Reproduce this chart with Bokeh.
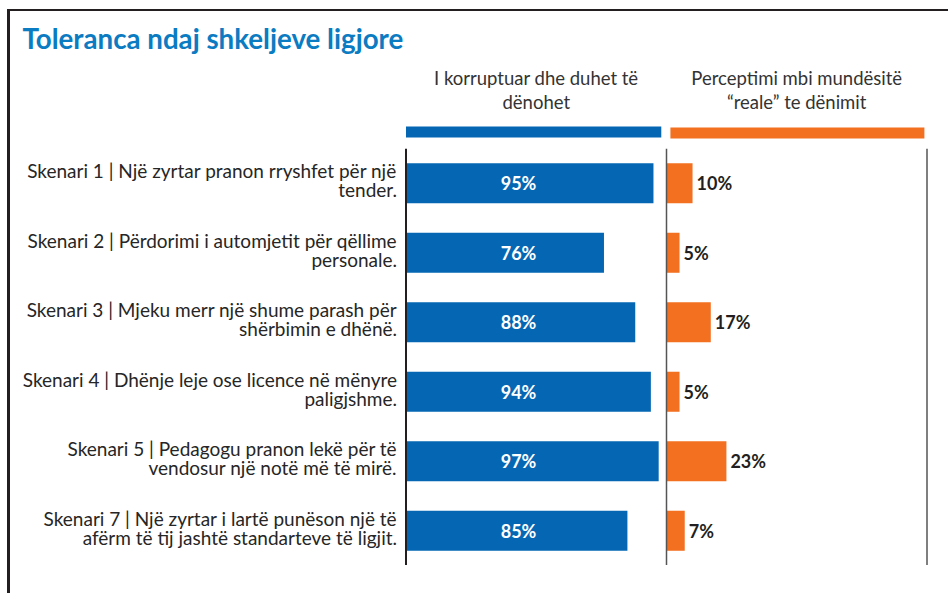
from bokeh.plotting import figure
from bokeh.models import ColumnDataSource, Range1d, FactorRange, Span, Spacer
from bokeh.layouts import column
from bokeh.core.properties import value
from bokeh.embed import file_html
from bokeh.resources import INLINE

# ---------------- data ----------------
title_text = "Toleranca ndaj shkeljeve ligjore"
headers = ["I korruptuar dhe duhet të\ndënohet",
           "Perceptimi mbi mundësitë\n\u201creale\u201d te dënimit"]
categories = [
    "Skenari 1 | Një zyrtar pranon rryshfet për një\ntender.",
    "Skenari 2 | Përdorimi i automjetit për qëllime\npersonale.",
    "Skenari 3 | Mjeku merr një shume parash për\nshërbimin e dhënë.",
    "Skenari 4 | Dhënje leje ose licence në mënyre\npaligjshme.",
    "Skenari 5 | Pedagogu pranon lekë për të\nvendosur një notë më të mirë.",
    "Skenari 7 | Një zyrtar i lartë punëson një të\nafërm të tij jashtë standarteve të ligjit.",
]
corrupt_pct = [95, 76, 88, 94, 97, 85]
real_pct = [10, 5, 17, 5, 23, 7]

# ---------------- layout constants ----------------
W = 938
H_TOP = 137
H_BOT = 417
PX = 2.605          # pixels per percent
X0 = 395.5          # canvas x of 0%
PANEL = 100         # width of one panel in %
FONT = value("Lato")
BLUE = "#0567b3"
ORANGE = "#f37021"
TITLE_BLUE = "#0b7bc2"
DARK = "#231f20"

xr = Range1d(-X0 / PX, (W - X0) / PX)

# ---------------- top (title + headers) ----------------
top = figure(width=W, height=H_TOP, x_range=xr, y_range=Range1d(H_TOP, 0),
             x_axis_location=None, y_axis_location=None, min_border=0,
             toolbar_location=None, output_backend="svg")
top.grid.visible = False
top.outline_line_color = None

top.text(x=[xr.start], y=[27], text=[title_text], x_offset=12,
         text_font=FONT, text_font_style="bold", text_font_size="27.7px",
         text_color=TITLE_BLUE, text_baseline="middle", text_align="left")

top.text(x=[PANEL / 2, PANEL + PANEL / 2], y=[78.5, 78.5], text=headers,
         text_font=FONT, text_font_size="18.5px", text_color="#333333",
         text_align="center", text_baseline="middle", text_line_height=1.09)

top.quad(left=[0, PANEL + 1.5], right=[PANEL - 2, 2 * PANEL - 1],
         top=[115, 116], bottom=[126, 127], fill_color=[BLUE, ORANGE],
         line_color=None)

# ---------------- bottom (bars) ----------------
src = ColumnDataSource(dict(
    cat=categories,
    corrupt=corrupt_pct,
    real_left=[PANEL] * len(real_pct),
    real_right=[PANEL + v for v in real_pct],
    corrupt_lbl=[f"{v}%" for v in corrupt_pct],
    real_lbl=[f"{v}%" for v in real_pct],
))

bot = figure(width=W, height=H_BOT, x_range=xr,
             y_range=FactorRange(factors=list(reversed(categories))),
             x_axis_location=None, y_axis_location=None, min_border=0,
             toolbar_location=None, output_backend="svg")
bot.grid.visible = False
bot.outline_line_color = None

bot.hbar(y="cat", left=0, right="corrupt", height=0.576, source=src,
         fill_color=BLUE, line_color=None)
bot.hbar(y="cat", left="real_left", right="real_right", height=0.576,
         source=src, fill_color=ORANGE, line_color=None)

bot.add_layout(Span(location=0, dimension="height", line_color=DARK, line_width=2))
bot.add_layout(Span(location=PANEL, dimension="height", line_color="#555555", line_width=1.5))
bot.add_layout(Span(location=2 * PANEL, dimension="height", line_color="#555555", line_width=1.5))

bot.text(x=0, y="cat", text="cat", source=src, x_offset=-9, y_offset=-3,
         text_font=FONT, text_font_size="19px", text_color="#262626",
         text_align="right", text_baseline="middle", text_line_height=0.82)

bot.text(x=43.2, y="cat", text="corrupt_lbl", source=src,
         text_font=FONT, text_font_style="bold", text_font_size="18px",
         text_color="white", text_align="center", text_baseline="middle")

bot.text(x="real_right", y="cat", text="real_lbl", source=src, x_offset=4,
         text_font=FONT, text_font_style="bold", text_font_size="18px",
         text_color=DARK, text_align="left", text_baseline="middle")

layout = column(top, bot, Spacer(width=W, height=28),
                styles={"border-top": f"2px solid {DARK}",
                        "border-left": f"3px solid {DARK}",
                        "margin-top": "9px", "margin-left": "7px"})

open("out.html", "w").write(file_html(layout, INLINE))
